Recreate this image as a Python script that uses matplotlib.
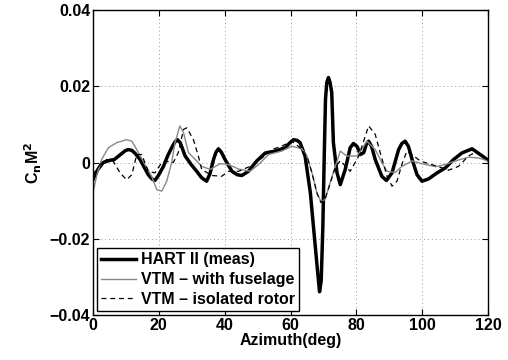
import numpy as np
import matplotlib
matplotlib.use('Agg')
import matplotlib.pyplot as plt

# HART II measurement
az_meas = [0, 1.5, 3.1, 5.2, 6.5, 8.5, 9.8, 10.7, 11.8, 12.8, 14.3, 15.6, 16.8, 17.9,
           18.8, 19.8, 21.4, 22.7, 23.9, 24.9, 25.6, 26.5, 28.0, 29.8, 31.5, 33.0, 34.5,
           35.5, 36.6, 37.4, 38.1, 39.0, 40.1, 42.2, 43.8, 45.2, 47.2, 49.7, 52.3, 55.3,
           58.4, 59.8, 60.9, 62.0, 62.9, 64.4, 66.0, 67.5, 68.3, 68.8, 69.3, 69.8, 70.2,
           70.6, 71.0, 71.5, 72.0, 72.5, 73.0, 74.1, 75.1, 76.6, 78.1, 79.1, 80.2, 81.2,
           82.2, 83.0, 83.7, 84.6, 85.7, 87.7, 89.1, 90.8, 92.8, 93.8, 94.8, 95.8, 96.9,
           98.4, 99.9, 101.9, 104.5, 107.0, 109.5, 112.0, 115.1, 117.6, 120.0]
cn_meas = [-0.0045, -0.0018, 0.0, 0.0006, 0.0008, 0.0022, 0.0031, 0.0034, 0.0032, 0.0024,
           0.0008, -0.0013, -0.0032, -0.0043, -0.0047, -0.0035, -0.001, 0.0018, 0.0039,
           0.0054, 0.006, 0.0052, 0.0017, -0.0005, -0.0023, -0.004, -0.0049, -0.003, 0.0008,
           0.0028, 0.0036, 0.0027, 0.0008, -0.0023, -0.0032, -0.0034, -0.0023, 0.0004,
           0.0025, 0.003, 0.0039, 0.0052, 0.006, 0.0058, 0.0052, 0.0017, -0.0079, -0.022,
           -0.0295, -0.0339, -0.031, -0.0168, 0.0008, 0.0166, 0.021, 0.0223, 0.021, 0.0183,
           0.0052, -0.0027, -0.0058, -0.0018, 0.0039, 0.005, 0.0042, 0.0021, 0.0026, 0.0048,
           0.0056, 0.0042, 0.0008, -0.0036, -0.0047, -0.0027, 0.0034, 0.005, 0.0056, 0.0042,
           0.0008, -0.0032, -0.0049, -0.0043, -0.0027, -0.0014, 0.0008, 0.0025, 0.0036,
           0.0021, 0.0006]

# VTM with fuselage
az_fus = [0, 1.1, 2.6, 4.7, 7.2, 10.2, 11.8, 13.3, 15.8, 17.8, 19.4, 20.9, 22.4, 23.9,
          24.9, 26.4, 27.5, 29.0, 31.5, 33.0, 35.6, 38.6, 41.1, 44.2, 47.7, 50.3, 53.3,
          57.3, 60.4, 63.4, 65.0, 66.5, 68.0, 69.2, 70.5, 72.0, 73.6, 75.1, 77.1, 80.2,
          83.2, 85.7, 87.7, 89.3, 91.8, 93.8, 96.9, 99.9, 104.0, 107.0, 110.0, 114.0,
          117.1, 120.0]
cn_fus = [-0.008, -0.0036, 0.0008, 0.0039, 0.0052, 0.006, 0.0056, 0.0034, -0.0005, -0.0036,
          -0.0071, -0.0075, -0.0049, 0.0, 0.0052, 0.0096, 0.0078, 0.0026, 0.0004, -0.001,
          -0.0018, -0.0003, -0.0005, -0.0017, -0.0023, -0.0005, 0.0021, 0.003, 0.0043,
          0.0036, 0.0017, -0.0027, -0.008, -0.0102, -0.0097, -0.0053, -0.001, 0.003,
          0.0017, 0.0017, 0.0056, 0.0034, 0.0, -0.0023, -0.0026, -0.001, 0.0004, -0.0003,
          -0.0011, -0.0005, 0.0004, 0.0014, 0.0012, 0.0004]

# VTM isolated rotor
az_iso = [0, 2.1, 4.2, 6.2, 8.2, 10.2, 11.8, 13.3, 14.8, 16.8, 18.8, 20.9, 22.9, 24.4,
          25.9, 27.5, 28.5, 30.5, 32.0, 33.0, 36.1, 39.1, 41.1, 44.2, 47.7, 51.3, 54.3,
          57.3, 60.4, 62.9, 65.0, 66.5, 68.0, 69.2, 70.5, 72.0, 73.6, 75.1, 78.1, 80.7,
          83.7, 85.7, 87.2, 89.3, 90.8, 92.3, 93.8, 95.3, 97.4, 99.4, 101.9, 105.0, 108.0,
          111.0, 114.0, 116.1, 120.0]
cn_iso = [-0.0032, -0.0005, 0.0008, 0.0003, -0.0027, -0.0045, -0.0032, 0.0021, 0.0021,
          -0.0023, -0.0027, 0.0, 0.0003, 0.0, 0.0026, 0.0087, 0.0091, 0.006, 0.0017,
          -0.0018, -0.0034, -0.0036, -0.0023, -0.0023, -0.001, 0.0012, 0.0034, 0.0043,
          0.0056, 0.0039, 0.0015, -0.0027, -0.008, -0.0105, -0.0095, -0.0055, -0.0012,
          0.0005, -0.0023, 0.0017, 0.0096, 0.0074, 0.0026, -0.0036, -0.0062, -0.0049,
          -0.0005, 0.003, 0.0017, 0.0004, -0.0003, -0.0011, -0.002, -0.001, 0.0017, 0.0027,
          0.0006]

xticks = [0, 20, 40, 60, 80, 100, 120]
yticks = [-0.04, -0.02, 0, 0.02, 0.04]
ytick_labels = ['\u22120.04', '\u22120.02', '0', '0.02', '0.04']

plt.rcParams['font.family'] = ['Liberation Sans', 'DejaVu Sans']
plt.rcParams['font.weight'] = 'bold'

fig = plt.figure(figsize=(5.08, 3.6), dpi=100)
ax = fig.add_axes([0.183, 0.125, 0.778, 0.847])

ax.plot(az_meas, cn_meas, color='black', lw=2.5, solid_joinstyle='round',
        label='HART II (meas)')
ax.plot(az_fus, cn_fus, color='#888888', lw=1.0, label='VTM \u2013 with fuselage')
ax.plot(az_iso, cn_iso, color='black', lw=0.9, ls=(0, (4, 3)), label='VTM \u2013 isolated rotor')

ax.set_xlim(0, 120)
ax.set_ylim(-0.04, 0.04)
ax.set_xticks(xticks)
ax.set_yticks(yticks)
ax.set_yticklabels(ytick_labels)
ax.tick_params(direction='in', length=4, width=0.8, top=True, right=True,
               labelsize=11.5, pad=2)
for lbl in ax.get_xticklabels() + ax.get_yticklabels():
    lbl.set_fontweight('bold')
ax.grid(True, ls=(0, (1, 3)), color='#999999', lw=0.7)
for s in ax.spines.values():
    s.set_linewidth(1.0)

ax.set_xlabel('Azimuth(deg)', fontsize=11.5, fontweight='bold', labelpad=0)
ax.set_ylabel('C$_\\mathbf{n}$M$^\\mathbf{2}$', fontsize=11.5, fontweight='bold', labelpad=4)

leg = ax.legend(loc='lower left', fontsize=11.5, frameon=True, fancybox=False,
                edgecolor='black', framealpha=1, handlelength=2.2, handletextpad=0.3,
                borderpad=0.25, labelspacing=0.3, borderaxespad=0.25)
leg.get_frame().set_linewidth(1.0)
for t in leg.get_texts():
    t.set_fontweight('bold')

fig.savefig('out.png', dpi=100)
